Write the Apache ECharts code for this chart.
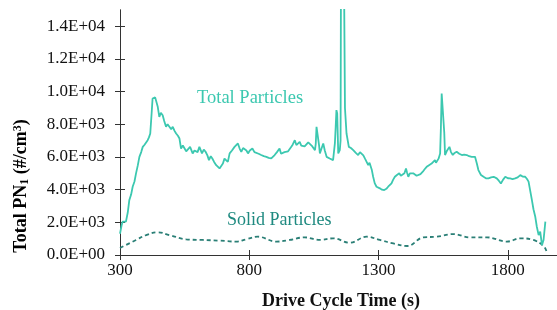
<!DOCTYPE html>
<html><head><meta charset="utf-8">
<script src="https://cdn.jsdelivr.net/npm/echarts@6/dist/echarts.min.js"></script>
<style>html,body{margin:0;padding:0;background:#fff}#c{width:557px;height:310px}</style>
</head><body><div id="c"></div>
<script>
const xTickLabels = [300, 800, 1300, 1800];
const yTickValues = [0, 2000, 4000, 6000, 8000, 10000, 12000, 14000];

const totalTime = [300,306,310,323,330,336,343,349,356,362,369,375,382,388,395,401,407,412,417,422,426,432,436,439,446,452,458,465,471,478,484,491,498,504,511,517,524,530,536,543,549,556,562,571,581,588,594,600,607,617,624,631,638,644,651,657,664,672,678,685,698,704,711,717,724,733,743,750,756,763,769,776,782,789,795,802,812,820,827,836,846,856,866,875,885,898,907,917,923,930,936,943,950,956,966,976,982,989,995,1001,1008,1014,1021,1028,1034,1041,1047,1054,1057,1060,1063,1066,1070,1073,1079,1086,1092,1099,1105,1111,1118,1124,1131,1134,1137,1140,1144,1150,1153,1155,1162,1167,1170,1176,1185,1193,1202,1212,1221,1228,1234,1241,1247,1254,1260,1265,1269,1274,1279,1285,1292,1298,1305,1313,1322,1330,1337,1343,1350,1356,1363,1371,1380,1386,1393,1400,1406,1410,1415,1421,1428,1434,1441,1447,1454,1462,1471,1478,1486,1495,1505,1511,1518,1522,1527,1532,1538,1541,1544,1551,1554,1557,1565,1574,1580,1587,1594,1602,1612,1622,1631,1641,1650,1660,1667,1673,1680,1686,1696,1706,1715,1725,1735,1745,1751,1757,1765,1773,1781,1790,1800,1809,1818,1828,1838,1848,1857,1867,1874,1880,1886,1893,1899,1906,1912,1919,1925,1932,1938,1945,1949];
const totalValue = [1300,1800,2040,2040,2600,3360,3700,4180,4500,5000,5500,6010,6300,6620,6750,6850,7030,7200,7440,8600,9580,9480,9650,9580,9070,8460,8700,8560,8200,7850,8000,7950,7700,7850,7600,7440,7300,7130,6520,6700,6620,6350,6320,6620,6220,6400,6520,6300,6620,6220,6450,6320,6100,5810,6050,5910,5700,5500,5450,5300,5600,5900,5810,5700,6220,6400,6620,6500,6830,6500,6320,6550,6620,6400,6220,6400,6520,6300,6320,6200,6120,6050,6010,5950,5910,6120,6300,6520,6200,6120,6300,6220,6350,6420,6700,7030,6730,6850,6930,6700,6730,6650,6730,6900,6830,6700,6620,6420,6800,7850,7900,7750,6700,6220,6500,6830,6400,6010,6000,5910,5850,5810,6830,7800,8870,8660,6220,6420,7000,20000,20000,15500,9000,7440,6620,6550,6420,6250,6120,6300,6220,6100,5910,5800,5500,5650,5710,5200,4790,4400,4180,4150,4080,4000,3975,4050,4180,4300,4380,4600,4790,4900,5000,4850,4890,5000,5300,5050,4790,5000,5100,5000,4890,4850,4790,4950,5100,5250,5400,5500,5600,5700,5810,5650,5710,5900,6220,7800,9890,9890,7500,6120,6400,6620,6300,6120,6250,6320,6200,6120,6150,6120,6050,6010,6050,6010,5600,5200,4900,4790,4700,4690,4750,4790,4700,4690,4550,4380,4600,4790,4700,4690,4650,4690,4750,4890,4800,4790,4650,4490,4590,3360,2800,2340,1730,1220,1430,610,920,2040];

const solidTime = [300,362,401,446,491,556,620,685,750,788,833,905,956,1014,1073,1124,1189,1253,1305,1357,1411,1473,1525,1589,1654,1719,1796,1848,1899,1938,1949];
const solidValue = [430,920,1220,1390,1220,960,920,880,820,960,1120,820,920,1080,920,1020,750,1120,920,710,550,1080,1120,1280,1080,1080,820,1020,920,550,250];

const totalData = totalTime.map((t, i) => [t, totalValue[i]]);
const solidData = solidTime.map((t, i) => [t, solidValue[i]]);

const serif = '"Liberation Serif", "Times New Roman", serif';
const axisCol = '#333';

const chart = echarts.init(document.getElementById('c'), null, {renderer: 'canvas'});
const xBase = {
  type: 'value', min: 300, max: 1990,
  splitLine: {show: false},
  axisLine: {show: true, lineStyle: {color: axisCol, width: 1}},
};
const yBase = {
  type: 'value', min: 0, max: 15000,
  splitLine: {show: false},
  axisLine: {show: true, lineStyle: {color: axisCol, width: 1}},
};
chart.setOption({
  animation: false,
  grid: {left: 120, right: 0, top: 10, bottom: 55},
  xAxis: [
    Object.assign({}, xBase, {
      axisTick: {show: true, length: 5, customValues: xTickLabels, lineStyle: {color: axisCol}},
      axisLabel: {show: true, customValues: xTickLabels, fontFamily: serif, fontSize: 17, color: '#111', margin: 7,
        formatter: v => String(v)},
    }),
    Object.assign({}, xBase, {
      position: 'bottom', offset: 0,
      axisTick: {show: true, inside: true, length: 5, customValues: xTickLabels, lineStyle: {color: axisCol}},
      axisLabel: {show: false},
    })
  ],
  yAxis: [
    Object.assign({}, yBase, {
      axisTick: {show: true, length: 5, customValues: yTickValues, lineStyle: {color: axisCol}},
      axisLabel: {show: true, customValues: yTickValues, fontFamily: serif, fontSize: 17, color: '#111', margin: 15,
        formatter: v => {
          if (v === 0) return '0.0E+00';
          const e = Math.floor(Math.log10(v));
          const m = (v / Math.pow(10, e)).toFixed(1);
          return m + 'E+' + String(e).padStart(2, '0');
        }},
    }),
    Object.assign({}, yBase, {
      position: 'left', offset: 0,
      axisTick: {show: true, inside: true, length: 5, customValues: yTickValues, lineStyle: {color: axisCol}},
      axisLabel: {show: false},
    })
  ],
  series: [
    {
      type: 'line', data: totalData, showSymbol: false, symbol: 'none',
      lineStyle: {color: '#3cc8b0', width: 1.8}, clip: true, z: 3
    },
    {
      type: 'line', data: solidData, showSymbol: false, symbol: 'none', smooth: 0.4,
      lineStyle: {color: '#2a7f76', width: 1.8, type: [4, 3]}, clip: true, z: 2
    }
  ],
  graphic: [
    {type: 'text', left: 197, top: 89, style: {text: 'Total Particles', fontFamily: serif, fontSize: 18.5, fill: '#3cc8b0'}},
    {type: 'text', left: 227, top: 211, style: {text: 'Solid Particles', fontFamily: serif, fontSize: 18, fill: '#1f8a80'}},
    {type: 'text', x: 341, y: 301, style: {text: 'Drive Cycle Time (s)', fontFamily: serif, fontSize: 18, fontWeight: 'bold', fill: '#111', align: 'center', verticalAlign: 'middle'}},
    {type: 'text', x: 21, y: 186, rotation: Math.PI / 2,
      style: {
        text: '{a|Total PN}{s|1}{a| (#/cm}{p|3}{a|)}',
        align: 'center', verticalAlign: 'middle',
        rich: {
          a: {fontFamily: serif, fontSize: 18, fontWeight: 'bold', color: '#111'},
          s: {fontFamily: serif, fontSize: 12, fontWeight: 'bold', color: '#111', verticalAlign: 'bottom', padding: [7, 0, 0, 0]},
          p: {fontFamily: serif, fontSize: 12, fontWeight: 'bold', color: '#111', verticalAlign: 'top', padding: [0, 0, 7, 0]}
        }
      }}
  ]
});
</script></body></html>
